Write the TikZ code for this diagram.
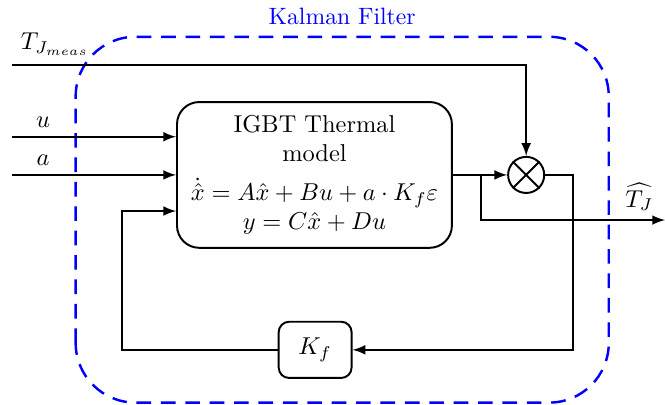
\documentclass[tikz,border=0pt]{standalone}
\usetikzlibrary{positioning,arrows}
\begin{document}
\begin{tikzpicture}[>=latex, thick]
    \useasboundingbox (0,0) rectangle (9.58,5.83);

    % Kalman filter frame
    \draw[blue, line width=1pt, dash pattern=on 6pt off 4pt, rounded corners=0.86cm] (1.09,0.03) rectangle (8.77,5.30);
    \node[blue, font=\fontsize{9.7}{11}\selectfont] (kflabel) at (4.93,5.59) {Kalman Filter};

    % Blocks
    \node[draw, rounded corners=0.32cm, minimum width=3.96cm, minimum height=2.10cm, align=center] (model) at (4.53,3.31)
        {IGBT Thermal\\model\\[4pt] $\dot{\hat{x}} = A\hat{x} + Bu + a\cdot K_f\varepsilon$\\ $y = C\hat{x} + Du$};
    \node[draw, circle, minimum size=0.52cm, inner sep=0pt] (mult) at (7.58,3.31) {};
    \draw (mult.north west) -- (mult.south east);
    \draw (mult.north east) -- (mult.south west);
    \node[draw, rounded corners=0.15cm, minimum width=1.05cm, minimum height=0.81cm] (gain) at (4.54,0.79) {$K_f$};

    % Free ends
    \coordinate (tin) at (0.17,4.90);
    \coordinate (uin) at (0.17,3.86);
    \coordinate (ain) at (0.17,3.31);
    \coordinate (br) at (6.93,3.31);
    \coordinate (out) at (9.58,2.66);
    \coordinate (fb) at (1.76,2.79);

    % Inputs
    \draw[->] (tin) node[above right] {$T_{J_{meas}}$} -- (tin -| mult) -- (mult);
    \draw[->] (uin) -- node[above, pos=0.19] {$u$} (uin -| model.west);
    \draw[->] (ain) -- node[above, pos=0.19] {$a$} (model.west);

    % Output and feedback
    \draw[->] (model.east) -- (mult.west);
    \draw[->] (br) -- (br |- out) -- node[above, pos=0.86] {$\widehat{T_J}$} (out);
    \draw[->] (mult.east) -- ++(0.40,0) |- (gain.east);
    \draw[->] (gain.west) -| (fb) -- (fb -| model.west);
\end{tikzpicture}
\end{document}
